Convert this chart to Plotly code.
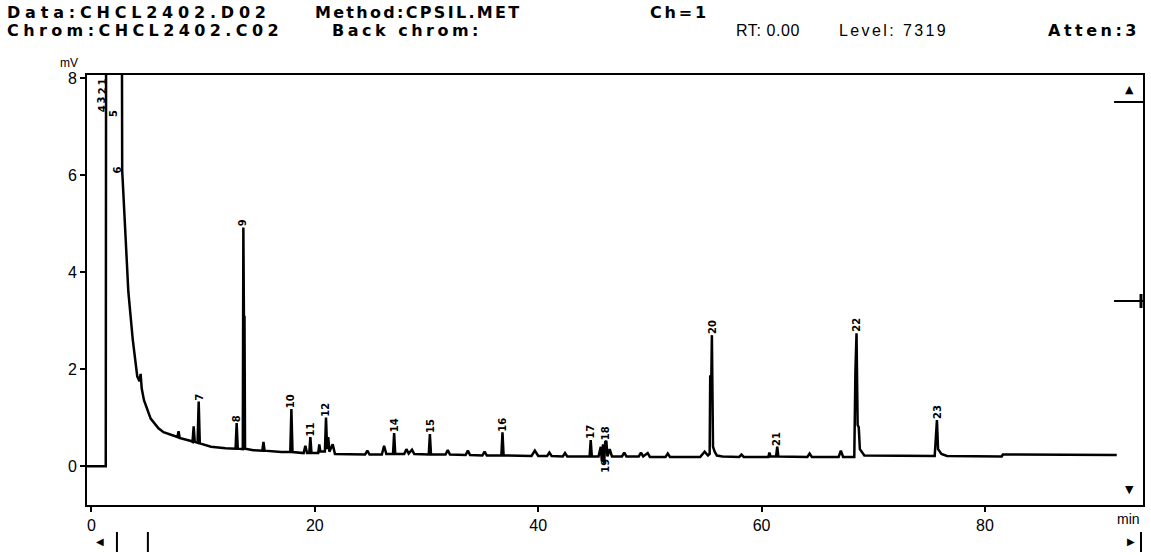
import plotly.graph_objects as go

# ---------------- data ----------------
time_min = [
    -0.4, 1.28, 1.32, 2.70, 2.75, 2.85, 3.0, 3.3, 3.7, 4.1, 4.3, 4.4, 4.5, 4.7,
    5.3, 6.0, 6.45, 7.0, 7.7, 7.8, 7.9, 8.9, 9.05, 9.15, 9.25, 9.5, 9.6, 9.7,
    10.7, 12.0, 12.9, 13.0, 13.1, 13.55, 13.6, 13.65, 13.7, 13.75,
    14.5, 15.3, 15.4, 15.5, 17.0, 17.8, 17.9, 18.0,
    19.0, 19.15, 19.3, 19.5, 19.6, 19.7, 20.3, 20.4, 20.5,
    20.9, 21.0, 21.1, 21.2, 21.3, 21.6, 21.8, 23.0,
    24.5, 24.7, 24.9, 26.0, 26.2, 26.4, 27.0, 27.1, 27.2,
    28.0, 28.2, 28.4, 28.7, 28.9, 30.2, 30.3, 30.4,
    31.7, 31.9, 32.1, 33.5, 33.7, 33.9, 35.0, 35.2, 35.4,
    36.7, 36.8, 36.9, 39.4, 39.7, 40.0, 40.8, 41.0, 41.2, 42.2, 42.4, 42.6,
    44.6, 44.7, 44.8, 45.4, 45.6, 45.7, 45.8, 45.9, 46.0, 46.1, 46.2, 46.4, 46.6,
    47.5, 47.7, 47.9, 49.0, 49.2, 49.4, 49.8, 50.0, 51.4, 51.6, 51.8,
    54.5, 54.9, 55.2, 55.35, 55.4, 55.5, 55.55, 55.65, 55.8, 56.0,
    56.5, 58.0, 58.2, 58.4, 60.6, 60.7, 60.8, 61.3, 61.4, 61.5,
    64.1, 64.3, 64.5, 66.9, 67.1, 67.3,
    68.3, 68.4, 68.5, 68.6, 68.7, 68.8, 69.2,
    75.5, 75.6, 75.7, 75.8, 76.1, 76.6, 81.5, 81.6, 91.8,
]
signal_mv = [
    0.0, 0.0, 12.0, 12.0, 6.1, 5.6, 4.8, 3.6, 2.6, 1.85, 1.75, 1.9, 1.6, 1.36,
    0.98, 0.78, 0.70, 0.65, 0.60, 0.72, 0.58, 0.52, 0.50, 0.82, 0.50, 0.48, 1.33, 0.47,
    0.40, 0.37, 0.36, 0.89, 0.36, 0.35, 4.92, 3.05, 3.10, 0.36,
    0.33, 0.32, 0.50, 0.32, 0.29, 0.29, 1.18, 0.29,
    0.27, 0.42, 0.27, 0.27, 0.60, 0.27, 0.27, 0.45, 0.30,
    0.30, 1.00, 0.35, 0.60, 0.30, 0.45, 0.25, 0.24,
    0.24, 0.32, 0.24, 0.24, 0.42, 0.25, 0.25, 0.68, 0.25,
    0.25, 0.35, 0.26, 0.34, 0.25, 0.24, 0.66, 0.24,
    0.24, 0.33, 0.24, 0.23, 0.32, 0.23, 0.22, 0.30, 0.22,
    0.22, 0.70, 0.22, 0.21, 0.32, 0.21, 0.21, 0.28, 0.21, 0.20, 0.27, 0.20,
    0.20, 0.54, 0.20, 0.20, 0.40, 0.10, 0.45, 0.05, 0.50, 0.52, 0.20, 0.35, 0.20,
    0.20, 0.28, 0.20, 0.20, 0.28, 0.20, 0.27, 0.19, 0.19, 0.26, 0.19,
    0.19, 0.30, 0.22, 0.25, 1.85, 1.85, 2.70, 0.40, 0.30, 0.22,
    0.20, 0.19, 0.24, 0.19, 0.19, 0.28, 0.20, 0.20, 0.40, 0.20,
    0.19, 0.26, 0.19, 0.19, 0.32, 0.19,
    0.19, 1.95, 2.74, 0.85, 0.80, 0.35, 0.22,
    0.21, 0.60, 0.95, 0.35, 0.25, 0.21, 0.20, 0.24, 0.23,
]

peak_ids = ["1", "2", "3", "4", "5", "6", "7", "8", "9", "10", "11", "12",
            "14", "15", "16", "17", "18", "20", "21", "22", "23"]
peak_rt = [0.94, 0.94, 0.94, 0.94, 1.92, 2.37, 9.6, 13.0, 13.6, 17.9, 19.6, 21.0,
           27.1, 30.3, 36.8, 44.7, 46.1, 55.55, 61.4, 68.5, 75.7]
peak_label_mv = [7.84, 7.65, 7.46, 7.28, 7.18, 6.02, 1.33, 0.89, 4.92, 1.18, 0.60, 1.00,
                 0.68, 0.66, 0.70, 0.54, 0.52, 2.70, 0.40, 2.74, 0.95]
below_ids = ["19"]
below_rt = [46.0]
below_mv = [0.18]

x_ticks = [0, 20, 40, 60, 80]
y_ticks = [0, 2, 4, 6, 8]

header_bold = [
    ("Data:CHCL2402.D02", 5, 12, 4.8),
    ("Method:CPSIL.MET", 313, 12, 2.3),
    ("Ch=1", 649, 12, 2.8),
    ("Chrom:CHCL2402.C02", 5, 30, 4.4),
    ("Back chrom:", 330, 30, 3.5),
    ("Atten:3", 1048, 30, 3.5),
]
header_plain = [("RT: 0.00", 735, 30, 0.6), ("Level: 7319", 838, 30, 2.4)]

# ---------------- figure ----------------
W, H = 1151, 555
L, R, T, B = 87, 6, 75, 50
PW, PH = W - L - R, H - T - B


def px(x):
    return (x - L) / PW


def py(y):
    return (H - B - y) / PH


fig = go.Figure()
fig.add_trace(go.Scatter(x=time_min, y=signal_mv, mode="lines",
                         line=dict(color="black", width=2.5), hoverinfo="skip"))

label_font = dict(family="DejaVu Sans", size=10, color="black", weight="bold")
ann = []
for pid, rt, h in zip(peak_ids, peak_rt, peak_label_mv):
    ann.append(dict(x=rt, y=h, xref="x", yref="y", text=pid, showarrow=False,
                    textangle=-90, xanchor="center", yanchor="bottom",
                    borderpad=0, font=label_font))
for pid, rt, h in zip(below_ids, below_rt, below_mv):
    ann.append(dict(x=rt, y=h, xref="x", yref="y", text=pid, showarrow=False,
                    textangle=-90, xanchor="center", yanchor="top", borderpad=0,
                    font=label_font))

for txt, x0, y0, ls in header_bold:
    ann.append(dict(x=px(x0), y=py(y0), xref="paper", yref="paper",
                    text='<span style="letter-spacing:%.1fpx">%s</span>' % (ls, txt),
                    showarrow=False, xanchor="left", yanchor="middle",
                    font=dict(family="DejaVu Sans", size=16, color="black", weight="bold")))
for txt, x0, y0, ls in header_plain:
    ann.append(dict(x=px(x0), y=py(y0), xref="paper", yref="paper",
                    text='<span style="letter-spacing:%.1fpx">%s</span>' % (ls, txt),
                    showarrow=False, xanchor="left", yanchor="middle",
                    font=dict(family="Liberation Sans", size=16, color="black")))

# axis unit labels
ann.append(dict(x=px(69), y=py(63), xref="paper", yref="paper", text="mV", showarrow=False,
                xanchor="center", yanchor="middle",
                font=dict(family="Liberation Sans", size=12, color="black")))
ann.append(dict(x=px(1130), y=py(519), xref="paper", yref="paper", text="min", showarrow=False,
                xanchor="center", yanchor="middle",
                font=dict(family="Liberation Sans", size=14, color="black")))
# scroll arrows
for sym, x0, y0, sz in [("▲", 1131, 89, 11), ("▼", 1131, 489, 11),
                        ("◀", 100, 541, 10), ("▶", 1133, 541, 10)]:
    ann.append(dict(x=px(x0), y=py(y0), xref="paper", yref="paper", text=sym, showarrow=False,
                    xanchor="center", yanchor="middle",
                    font=dict(family="DejaVu Sans", size=sz, color="black")))

shapes = []
for (x0, y0, x1, y1, w) in [(1116, 102, 1145, 102, 2), (1116, 301, 1145, 301, 2),
                            (1143, 294, 1143, 308, 3),
                            (117, 532, 117, 552, 2), (148, 532, 148, 552, 2),
                            (1143, 532, 1143, 552, 2)]:
    shapes.append(dict(type="line", xref="paper", yref="paper",
                       x0=px(x0), y0=py(y0), x1=px(x1), y1=py(y1),
                       line=dict(color="black", width=w)))

fig.update_layout(
    width=W, height=H, margin=dict(l=L, r=R, t=T, b=B),
    paper_bgcolor="white", plot_bgcolor="white", showlegend=False,
    annotations=ann, shapes=shapes,
    font=dict(family="Liberation Sans", color="black"),
    xaxis=dict(range=[-0.4, 94.15], tickvals=x_ticks, ticktext=[str(v) for v in x_ticks],
               showgrid=False, zeroline=False, showline=True, linewidth=2, linecolor="black",
               mirror=True, ticks="outside", ticklen=5, tickwidth=1.5, tickcolor="black",
               tickfont=dict(size=16, family="Liberation Sans", color="black")),
    yaxis=dict(range=[-0.80, 8.06], tickvals=y_ticks, ticktext=[str(v) for v in y_ticks],
               showgrid=False, zeroline=False, showline=True, linewidth=2, linecolor="black",
               mirror=True, ticks="outside", ticklen=5, tickwidth=1.5, tickcolor="black",
               tickfont=dict(size=16, family="Liberation Sans", color="black")),
)

fig.write_html("out.html")
